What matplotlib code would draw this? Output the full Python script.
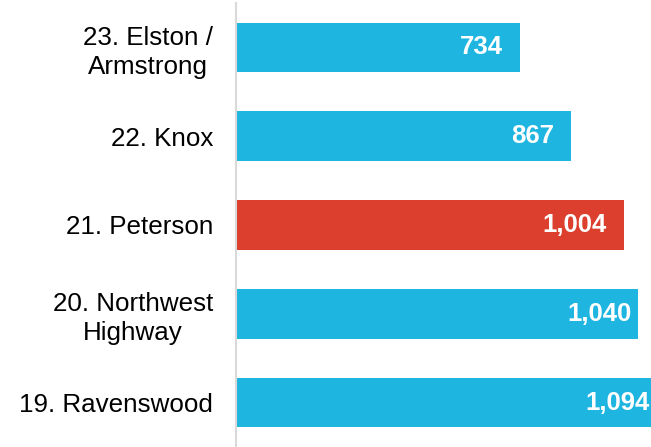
import matplotlib.pyplot as plt
from matplotlib.transforms import offset_copy

plt.rcParams['font.family'] = ['Liberation Sans', 'DejaVu Sans']

# data
labels = ['23. Elston /\nArmstrong', '22. Knox', '21. Peterson',
          '20. Northwest\nHighway', '19. Ravenswood']
values = [734, 867, 1004, 1040, 1094]
highlight = '21. Peterson'

# style
blue = '#1fb5e1'
red = '#dc3f2e'
pads = [17, 17, 17, 6, 1]  # px, value label inset from bar end

fig = plt.figure(figsize=(6.51, 4.47), dpi=100)
ax = fig.add_axes([236 / 651, 0, 1 - 236 / 651, 1 - 3 / 447])

ypos = list(range(len(labels)))
colors = [red if l == highlight else blue for l in labels]
ax.barh(ypos, values, height=0.56, color=colors, zorder=2)

ax.set_xlim(0, 1074)
ax.set_ylim(len(labels) - 0.5, -0.5)

ax.set_yticks(ypos)
ax.set_yticklabels(labels, fontsize=18.7, linespacing=1.25, ha='right',
                   multialignment='center')
ax.tick_params(axis='y', length=0, pad=23 * 72 / 100)
ax.set_xticks([])

for s in ['top', 'right', 'bottom']:
    ax.spines[s].set_visible(False)
ax.spines['left'].set_color('#d9d9d9')
ax.spines['left'].set_linewidth(1.5)
ax.spines['left'].set_zorder(3)

xmax = ax.get_xlim()[1]
for y, v, p in zip(ypos, values, pads):
    tr = offset_copy(ax.transData, fig=fig, x=-p * 72 / 100, y=0, units='points')
    ax.text(min(v, xmax), y, f'{v:,}', transform=tr, ha='right', va='center',
            color='white', fontsize=18.5, fontweight='bold', zorder=4, clip_on=False)

fig.savefig('out.png', dpi=100)
